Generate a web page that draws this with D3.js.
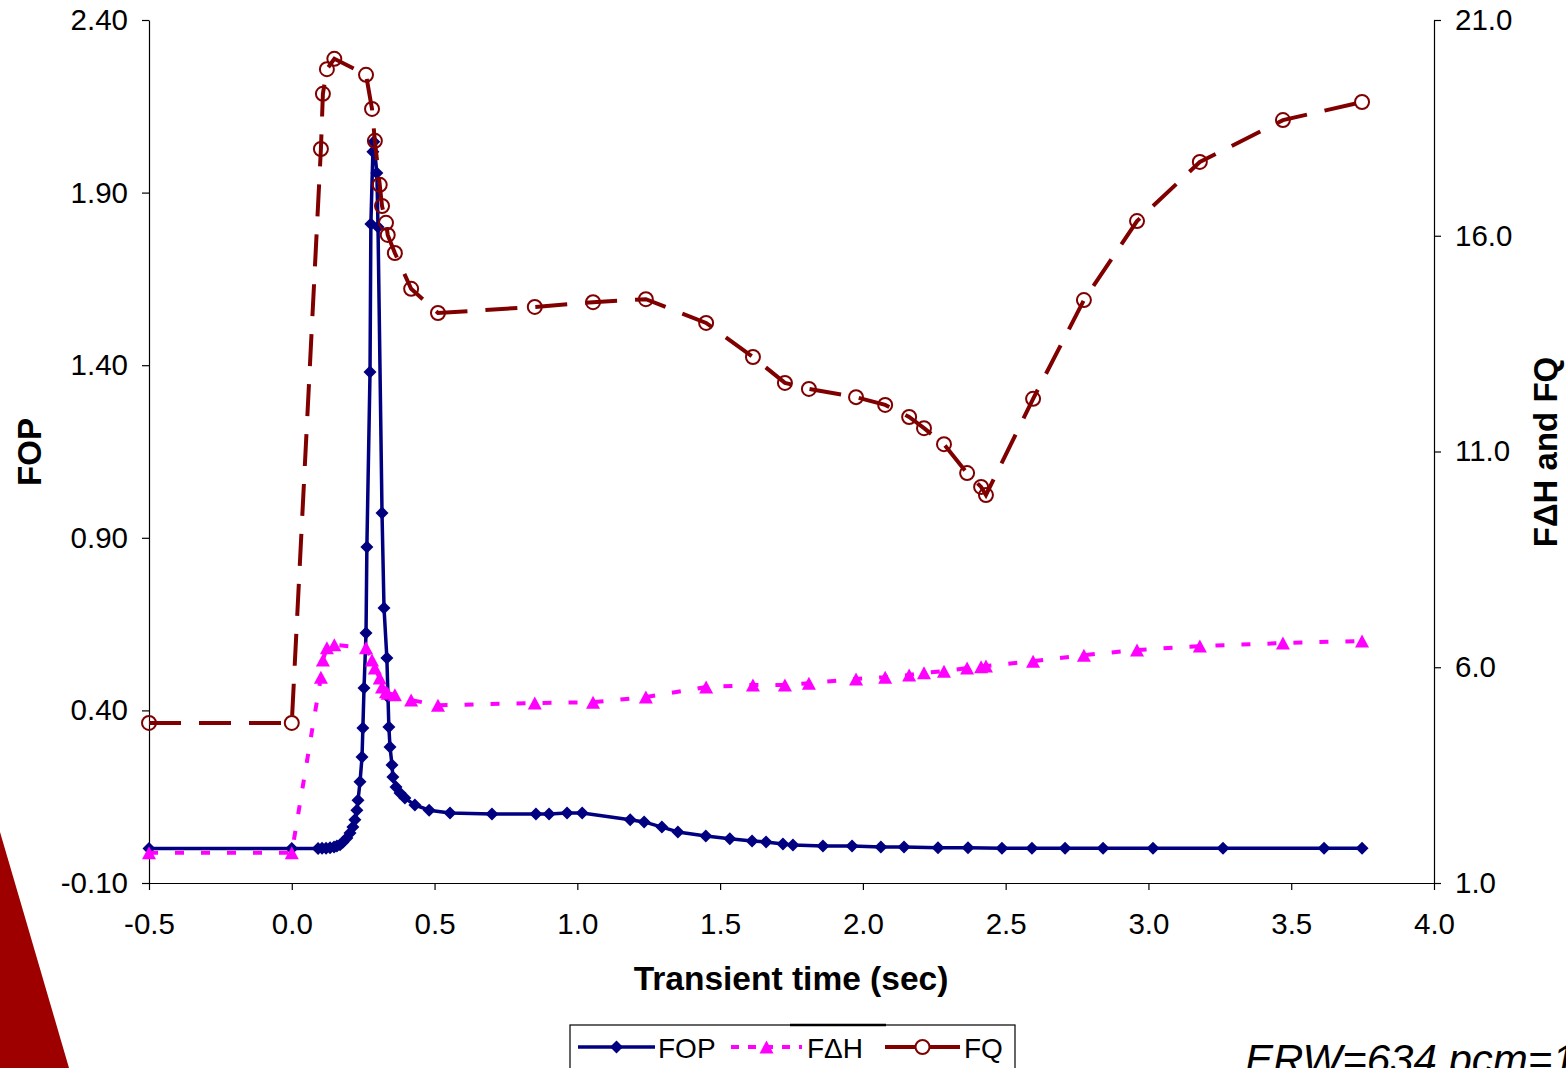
<!DOCTYPE html>
<html>
<head>
<meta charset="utf-8">
<script src="https://cdn.jsdelivr.net/npm/d3@7"></script>
<style>
  html, body { margin: 0; padding: 0; background: #ffffff; }
  svg { display: block; }
  text { font-family: "Liberation Sans", Arial, sans-serif; fill: #000; }
</style>
</head>
<body>
<script>
// Axis ticks
const xTicks = [-0.5, 0.0, 0.5, 1.0, 1.5, 2.0, 2.5, 3.0, 3.5, 4.0];
const leftTicks = [-0.10, 0.40, 0.90, 1.40, 1.90, 2.40];
const rightTicks = [1.0, 6.0, 11.0, 16.0, 21.0];

// FOP (left axis) versus transient time
const fopTime = [-0.5, 0.0, 0.092, 0.106, 0.120, 0.134, 0.148, 0.158, 0.169, 0.179,
  0.193, 0.204, 0.214, 0.221, 0.228, 0.232, 0.239, 0.246, 0.249, 0.253,
  0.260, 0.263, 0.274, 0.277, 0.284, 0.287, 0.298, 0.302, 0.316, 0.323,
  0.333, 0.337, 0.340, 0.344, 0.351, 0.354, 0.365, 0.379, 0.396, 0.431,
  0.481, 0.554, 0.701, 0.855, 0.901, 0.964, 1.017, 1.185, 1.234, 1.296,
  1.352, 1.450, 1.534, 1.612, 1.661, 1.720, 1.755, 1.860, 1.962, 2.063,
  2.144, 2.263, 2.368, 2.487, 2.592, 2.708, 2.841, 3.016, 3.261, 3.615, 3.748];
const fopValue = [0.000, 0.000, 0.000, 0.001, 0.001, 0.002, 0.004, 0.007, 0.011, 0.018,
  0.030, 0.045, 0.062, 0.083, 0.111, 0.140, 0.193, 0.265, 0.349, 0.465,
  0.624, 0.873, 1.380, 1.809, 2.018, 2.047, 1.957, 1.800, 0.972, 0.697,
  0.552, 0.439, 0.352, 0.294, 0.242, 0.207, 0.178, 0.161, 0.146, 0.126,
  0.111, 0.103, 0.100, 0.100, 0.100, 0.103, 0.103, 0.083, 0.077, 0.062,
  0.048, 0.036, 0.028, 0.022, 0.019, 0.013, 0.010, 0.007, 0.007, 0.004,
  0.004, 0.002, 0.002, 0.001, 0.001, 0.001, 0.001, 0.001, 0.001, 0.001, 0.001];

// FΔH and FQ (right axis) share one time grid
const peakTime = [-0.5, 0.0, 0.102, 0.109, 0.123, 0.149, 0.260, 0.281, 0.291, 0.308,
  0.316, 0.330, 0.336, 0.361, 0.418, 0.512, 0.851, 1.055, 1.240, 1.451,
  1.615, 1.727, 1.811, 1.976, 2.078, 2.162, 2.214, 2.284, 2.365, 2.414,
  2.431, 2.596, 2.774, 2.960, 3.180, 3.471, 3.748];
const fdhValue = [1.70, 1.70, 5.77, 6.17, 6.45, 6.52, 6.45, 6.17, 5.98, 5.75,
  5.54, 5.43, 5.40, 5.36, 5.24, 5.12, 5.17, 5.19, 5.31, 5.54,
  5.59, 5.59, 5.63, 5.73, 5.77, 5.82, 5.87, 5.91, 5.98, 6.01,
  6.03, 6.14, 6.28, 6.40, 6.49, 6.56, 6.61];
const fqValue = [4.71, 4.71, 18.01, 19.29, 19.86, 20.10, 19.73, 18.94, 18.20, 17.18,
  16.69, 16.30, 16.02, 15.60, 14.77, 14.21, 14.35, 14.46, 14.53, 13.98,
  13.19, 12.59, 12.45, 12.26, 12.08, 11.80, 11.54, 11.17, 10.50, 10.18,
  9.99, 12.22, 14.51, 16.34, 17.71, 18.68, 19.10];

const seriesNames = ["FOP", "F\u0394H", "FQ"];
const colors = { fop: "#000080", fdh: "#ff00ff", fq: "#800000" };

const W = 1566, H = 1068;
const plot = { left: 149, right: 1434, top: 20, bottom: 883 };

const svg = d3.select("body").append("svg").attr("width", W).attr("height", H);

// decorative slide edge at lower left
svg.append("path")
  .attr("d", "M0,832 Q34,948 69,1068 L0,1068 Z")
  .attr("fill", "#9e0000");

const x = d3.scaleLinear().domain([-0.5, 4.0]).range([plot.left, plot.right]);
const yL = d3.scaleLinear().domain([-0.1, 2.4]).range([plot.bottom, plot.top]);
const yR = d3.scaleLinear().domain([1, 21]).range([plot.bottom, plot.top]);

function styleAxis(g) {
  g.select(".domain").attr("stroke", "#000").attr("stroke-width", 1.2);
  g.selectAll(".tick line").attr("stroke", "#000").attr("stroke-width", 1.2);
  g.selectAll(".tick text").attr("font-size", 29.5).attr("font-family", "Liberation Sans, Arial, sans-serif").attr("fill", "#000");
}

svg.append("g")
  .attr("transform", `translate(0,${plot.bottom})`)
  .call(d3.axisBottom(x).tickValues(xTicks).tickFormat(d => d.toFixed(1))
    .tickSize(7).tickSizeOuter(0).tickPadding(23))
  .call(styleAxis);

svg.append("g")
  .attr("transform", `translate(${plot.left},0)`)
  .call(d3.axisLeft(yL).tickValues(leftTicks).tickFormat(d => d.toFixed(2))
    .tickSize(7).tickSizeOuter(0).tickPadding(14))
  .call(styleAxis);

svg.append("g")
  .attr("transform", `translate(${plot.right},0)`)
  .call(d3.axisRight(yR).tickValues(rightTicks).tickFormat(d => d.toFixed(1))
    .tickSize(7).tickSizeOuter(0).tickPadding(14))
  .call(styleAxis);

// axis titles
svg.append("text")
  .attr("x", 791).attr("y", 990)
  .attr("text-anchor", "middle")
  .attr("font-size", 33.5).attr("font-weight", "bold")
  .text("Transient time (sec)");

svg.append("text")
  .attr("transform", "translate(41,452) rotate(-90)")
  .attr("text-anchor", "middle")
  .attr("font-size", 33).attr("font-weight", "bold")
  .text("FOP");

svg.append("text")
  .attr("transform", "translate(1557,452) rotate(-90)")
  .attr("text-anchor", "middle")
  .attr("font-size", 33).attr("font-weight", "bold")
  .text("F\u0394H and FQ");

// marker shapes
const diamondPath = "M0,-6.5L6.5,0L0,6.5L-6.5,0Z";
const trianglePath = "M0,-6.5L7,6.5L-7,6.5Z";

const fopData = fopTime.map((t, i) => ({ t, v: fopValue[i] }));
const fdhData = peakTime.map((t, i) => ({ t, v: fdhValue[i] }));
const fqData = peakTime.map((t, i) => ({ t, v: fqValue[i] }));

// FOP
svg.append("path")
  .datum(fopData)
  .attr("fill", "none")
  .attr("stroke", colors.fop)
  .attr("stroke-width", 3.5)
  .attr("stroke-linejoin", "round")
  .attr("d", d3.line().x(d => x(d.t)).y(d => yL(d.v)));
svg.append("g").selectAll("path")
  .data(fopData).join("path")
  .attr("d", diamondPath)
  .attr("transform", d => `translate(${x(d.t)},${yL(d.v)})`)
  .attr("fill", colors.fop);

// FΔH
svg.append("path")
  .datum(fdhData)
  .attr("fill", "none")
  .attr("stroke", colors.fdh)
  .attr("stroke-width", 4)
  .attr("stroke-dasharray", "9,17")
  .attr("d", d3.line().x(d => x(d.t)).y(d => yR(d.v)));
svg.append("g").selectAll("path")
  .data(fdhData).join("path")
  .attr("d", trianglePath)
  .attr("transform", d => `translate(${x(d.t)},${yR(d.v)})`)
  .attr("fill", colors.fdh);

// FQ
svg.append("path")
  .datum(fqData)
  .attr("fill", "none")
  .attr("stroke", colors.fq)
  .attr("stroke-width", 4)
  .attr("stroke-dasharray", "32,18")
  .attr("d", d3.line().x(d => x(d.t)).y(d => yR(d.v)));
svg.append("g").selectAll("circle")
  .data(fqData).join("circle")
  .attr("cx", d => x(d.t))
  .attr("cy", d => yR(d.v))
  .attr("r", 7)
  .attr("fill", "none")
  .attr("stroke", colors.fq)
  .attr("stroke-width", 2);

// legend
const legend = svg.append("g");
legend.append("rect")
  .attr("x", 570).attr("y", 1025).attr("width", 445).attr("height", 60)
  .attr("fill", "#fff").attr("stroke", "#000").attr("stroke-width", 1.2);
legend.append("line").attr("x1", 790).attr("x2", 886).attr("y1", 1025).attr("y2", 1025)
  .attr("stroke", "#000").attr("stroke-width", 2.5);

const ly = 1047;
const legendItems = [
  { name: seriesNames[0], x1: 578, x2: 655, tx: 658, color: colors.fop, dash: null, w: 3.5, marker: "diamond" },
  { name: seriesNames[1], x1: 731, x2: 802, tx: 807, color: colors.fdh, dash: "8,9", w: 4, marker: "triangle" },
  { name: seriesNames[2], x1: 885, x2: 960, tx: 964, color: colors.fq, dash: null, w: 4, marker: "circle" }
];
legendItems.forEach(it => {
  const l = legend.append("line")
    .attr("x1", it.x1).attr("x2", it.x2).attr("y1", ly).attr("y2", ly)
    .attr("stroke", it.color).attr("stroke-width", it.w);
  if (it.dash) l.attr("stroke-dasharray", it.dash);
  const cx = (it.x1 + it.x2) / 2;
  if (it.marker === "diamond") {
    legend.append("path").attr("d", diamondPath).attr("transform", `translate(${cx},${ly})`).attr("fill", it.color);
  } else if (it.marker === "triangle") {
    legend.append("path").attr("d", trianglePath).attr("transform", `translate(${cx},${ly})`).attr("fill", it.color);
  } else {
    legend.append("circle").attr("cx", cx).attr("cy", ly).attr("r", 7)
      .attr("fill", "#fff").attr("stroke", it.color).attr("stroke-width", 2);
  }
  legend.append("text").attr("x", it.tx).attr("y", ly + 11)
    .attr("font-size", 28).text(it.name);
});

// note in lower right corner
svg.append("text")
  .attr("x", 1245).attr("y", 1074)
  .attr("font-size", 42).attr("font-style", "italic")
  .text("ERW=634 pcm=1");
</script>
</body>
</html>
